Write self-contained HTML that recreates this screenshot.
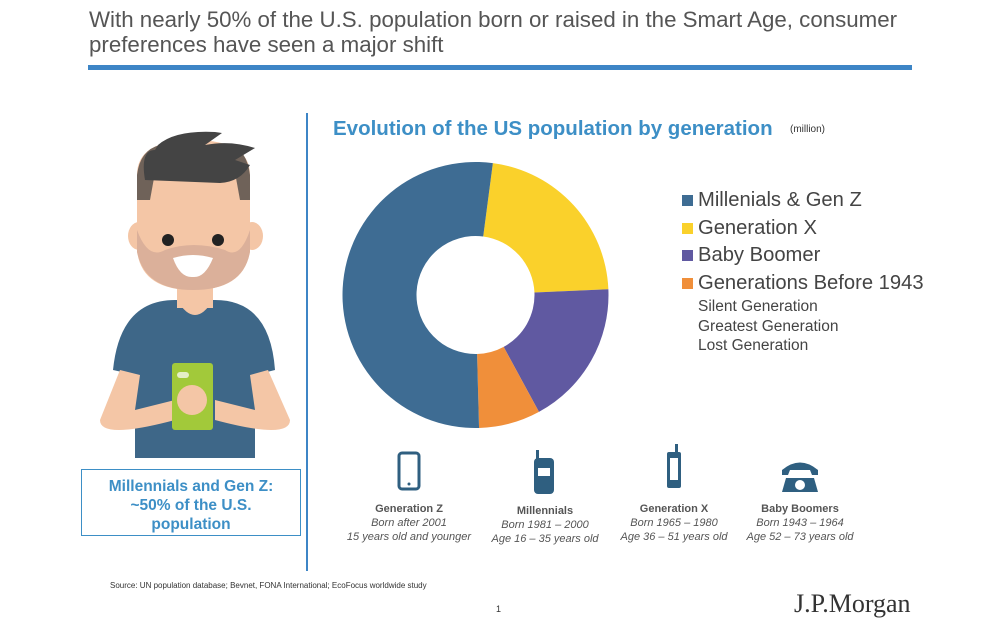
<!DOCTYPE html>
<html><head><meta charset="utf-8"><style>
body{margin:0;width:1000px;height:618px;background:#fff;font-family:"Liberation Sans",sans-serif;position:relative;overflow:hidden}
.a{position:absolute}
</style></head><body>
<div class="a" style="left:89px;top:7px;font-size:22.3px;color:#555;line-height:25px;width:840px">With nearly 50% of the U.S. population born or raised in the Smart Age, consumer preferences have seen a major shift</div>
<div class="a" style="left:88px;top:65px;width:824px;height:5px;background:#3d85c6"></div>
<div class="a" style="left:306px;top:113px;width:2px;height:458px;background:#3d85c6"></div>
<div class="a" style="left:333px;top:117px;font-size:20.5px;font-weight:bold;color:#3d8fc6">Evolution of the US population by generation</div>
<div class="a" style="left:790px;top:124px;font-size:10px;color:#333">(million)</div>

<svg class="a" style="left:0;top:0" width="1000" height="618">
 <g>
  <path d="M113,370 Q120,300 175,300 L215,300 Q270,300 275,370 L255,375 L255,458 L135,458 L135,375Z" fill="#3e6788"/>
  <rect x="177" y="280" width="36" height="28" fill="#f4c6a6"/>
  <path d="M177,300 Q195,330 213,300Z" fill="#f4c6a6"/>
  <ellipse cx="139" cy="236" rx="11" ry="14" fill="#f4c6a6"/>
  <ellipse cx="252" cy="236" rx="11" ry="14" fill="#f4c6a6"/>
  <path d="M137,175 Q137,140 193,140 Q250,140 250,175 L250,250 Q245,290 193,290 Q141,290 137,250Z" fill="#f4c6a6"/>
  <path d="M137,230 L137,252 Q145,290 193,290 Q243,290 250,252 L250,230 Q240,260 225,250 Q193,240 165,250 Q148,260 137,230Z" fill="#dbb09a"/>
  <path d="M137,200 L137,175 Q140,150 160,145 L150,200Z" fill="#6f6259"/>
  <path d="M250,200 L250,175 Q247,150 230,145 L240,200Z" fill="#6f6259"/>
  <path d="M145,180 Q140,150 155,150 L158,145 Q175,130 215,132 L222,133 L205,145 Q230,140 255,148 L235,160 L250,165 Q240,182 220,183 Z" fill="#444"/>
  <ellipse cx="168" cy="240" rx="6" ry="6" fill="#222"/>
  <ellipse cx="218" cy="240" rx="6" ry="6" fill="#222"/>
  <path d="M173,258 Q193,252 213,258 Q205,278 193,277 Q180,278 173,258Z" fill="#fff"/>
  <path d="M120,370 L100,420 Q100,440 175,420 L175,400 L135,410 L140,375Z" fill="#f4c6a6"/>
  <path d="M268,370 L290,420 Q290,440 215,420 L215,400 L255,410 L250,375Z" fill="#f4c6a6"/>
  <rect x="172" y="363" width="41" height="67" rx="3" fill="#a2c93a"/>
  <rect x="177" y="372" width="12" height="6" rx="3" fill="#e5eec8"/>
  <circle cx="192" cy="400" r="15" fill="#f4c6a6"/>
 </g>
 <g fill="#2f5f80">
  <rect x="399" y="453" width="20" height="36" rx="3" fill="none" stroke="#2f5f80" stroke-width="3"/>
  <circle cx="409" cy="484" r="1.5"/>
  <rect x="534" y="458" width="20" height="36" rx="4"/><rect x="536" y="450" width="3" height="10"/>
  <rect x="538" y="468" width="12" height="8" fill="#fff"/>
  <rect x="667" y="452" width="14" height="36" rx="2"/><rect x="675" y="444" width="3" height="10"/>
  <rect x="670" y="458" width="8" height="22" fill="#fff"/>
  <path d="M782,470 Q800,455 818,470 L818,475 L812,475 L810,470 L790,470 L788,475 L782,475Z"/>
  <path d="M786,478 L814,478 L818,492 L782,492Z"/>
  <circle cx="800" cy="485" r="5" fill="#fff"/>
 </g>
</svg>

<svg class="a" style="left:0;top:0" width="1000" height="618" id="donut"></svg>

<div class="a" style="left:682px;top:187px;font-size:20.2px;color:#444;line-height:27.5px">
 <div><span style="display:inline-block;width:11px;height:11px;background:#3e6c93;margin-right:5px"></span>Millenials &amp; Gen Z</div>
 <div><span style="display:inline-block;width:11px;height:11px;background:#fad12b;margin-right:5px"></span>Generation X</div>
 <div><span style="display:inline-block;width:11px;height:11px;background:#6059a1;margin-right:5px"></span>Baby Boomer</div>
 <div><span style="display:inline-block;width:11px;height:11px;background:#f08f3a;margin-right:5px"></span>Generations Before 1943</div>
 <div style="font-size:15.5px;line-height:19.5px;margin-left:16px">Silent Generation<br>Greatest Generation<br>Lost Generation</div>
</div>

<div class="a" style="left:81px;top:469px;width:220px;height:67px;border:1.5px solid #3d8fc6;box-sizing:border-box;color:#3d8fc6;font-weight:bold;font-size:15.5px;text-align:center;line-height:19px;padding-top:7px">Millennials and Gen Z:<br>~50% of the U.S.<br>population</div>

<div class="a" style="left:334px;top:502px;width:150px;text-align:center;font-size:11px;color:#555;line-height:14px"><b>Generation Z</b><br><i>Born after 2001<br>15 years old and younger</i></div>
<div class="a" style="left:470px;top:504px;width:150px;text-align:center;font-size:11px;color:#555;line-height:14px"><b>Millennials</b><br><i>Born 1981 – 2000<br>Age 16 – 35 years old</i></div>
<div class="a" style="left:599px;top:502px;width:150px;text-align:center;font-size:11px;color:#555;line-height:14px"><b>Generation X</b><br><i>Born 1965 – 1980<br>Age 36 – 51 years old</i></div>
<div class="a" style="left:725px;top:502px;width:150px;text-align:center;font-size:11px;color:#555;line-height:14px"><b>Baby Boomers</b><br><i>Born 1943 – 1964<br>Age 52 – 73 years old</i></div>

<div class="a" style="left:110px;top:581px;font-size:8px;color:#333">Source: UN population database; Bevnet, FONA International; EcoFocus worldwide study</div>
<div class="a" style="left:496px;top:604px;font-size:9px;color:#333">1</div>
<div class="a" style="left:794px;top:589px;font-family:'Liberation Serif',serif;font-size:26px;color:#333">J.P.Morgan</div>

<script>
const categories=["Generation X","Baby Boomer","Generations Before 1943","Millenials & Gen Z"];
const values=[71.8,57.4,24.2,169.6];
const colors=["#fad12b","#6059a1","#f08f3a","#3e6c93"];
const svg=document.getElementById('donut');
const cx=475.5,cy=295,R=133,r=59,start=7.5;
const total=values.reduce((a,b)=>a+b,0);
function pt(deg,rad){const t=(deg-90)*Math.PI/180;return [cx+rad*Math.cos(t),cy+rad*Math.sin(t)];}
let ang=start;
values.forEach((v,i)=>{
 const sweep=v/total*360,a1=ang,a2=ang+sweep,lg=sweep>180?1:0;
 const [x1,y1]=pt(a1,R),[x2,y2]=pt(a2,R),[x3,y3]=pt(a2,r),[x4,y4]=pt(a1,r);
 const p=document.createElementNS('http://www.w3.org/2000/svg','path');
 p.setAttribute('d',`M${x1},${y1}A${R},${R} 0 ${lg} 1 ${x2},${y2}L${x3},${y3}A${r},${r} 0 ${lg} 0 ${x4},${y4}Z`);
 p.setAttribute('fill',colors[i]);
 
 
 svg.appendChild(p);
 ang=a2;
});
</script>
</body></html>
